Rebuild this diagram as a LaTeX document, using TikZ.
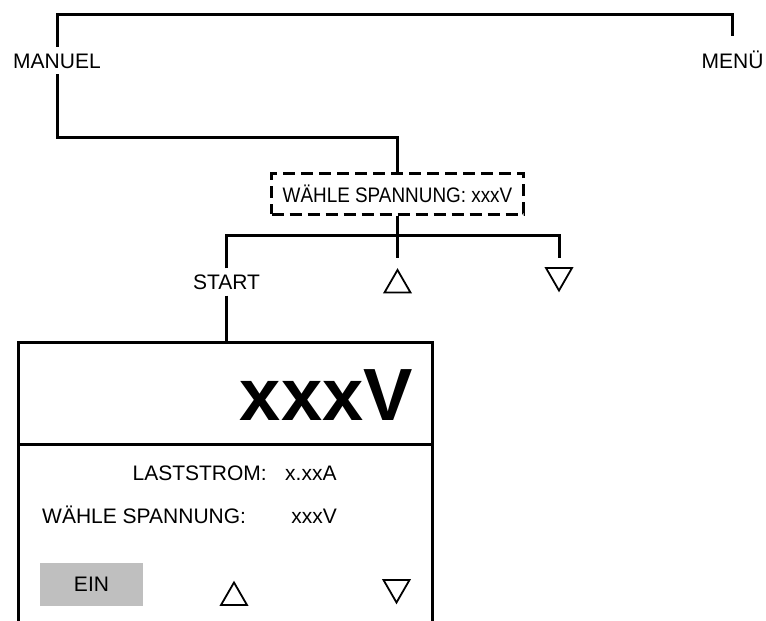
\documentclass[tikz,border=0pt]{standalone}
\usepackage{fontspec}
\setmainfont{Liberation Sans}
\usetikzlibrary{shapes.geometric}
\definecolor{eingray}{HTML}{BFBFBF}
\begin{document}
\begin{tikzpicture}[x=1pt,y=-1pt,
  conn/.style={line width=3pt},
  lbl/.style={font=\fontsize{21}{24}\selectfont, inner xsep=0pt, inner ysep=6pt, text height=15pt, text depth=0pt},
  txt/.style={font=\fontsize{21}{24}\selectfont, inner sep=0pt},
  selbox/.style={draw, line width=3pt, dash pattern=on 12pt off 6pt, minimum width=252pt, minimum height=41pt, inner sep=0pt, font=\fontsize{21}{24}\selectfont},
  tri/.style={draw, regular polygon, regular polygon sides=3, minimum size=30pt, inner sep=0pt, line width=1.8pt},
  tridown/.style={tri, shape border rotate=180}]
\useasboundingbox (0,0) rectangle (766,621);

% labels
\node[lbl] (manuel) at (57,60.5) {MANUEL};
\node[lbl, inner ysep=17pt] (menu) at (732.5,60.5) {MENÜ};
\node[selbox] (sel) at (397.5,193.5) {\scalebox{0.9}[1]{WÄHLE SPANNUNG: xxxV}};
\node[lbl] (start) at (226.5,282) {START};
\node[tri] (up1) at (397.5,285) {};
\node[tridown] (dn1) at (559,275.5) {};

\coordinate (topc) at (400,14);
\coordinate (j1) at (397.5,137);
\coordinate (bus) at (397.5,235);
\coordinate (ptop) at (226.5,342);

% connectors
\draw[conn] (manuel.north) |- (topc) -| (menu.north);
\draw[conn] (manuel.south) |- (j1) -- (sel.north);
\draw[conn] (sel.south) -- ([yshift=27pt]up1.center);
\draw[conn] (start.north) |- (bus) -| ([yshift=17.5pt]dn1.center);
\draw[conn] (start.south) -- (ptop);

% panel
\draw[line width=3pt] (18,630) |- (432,342) -- (432,630);
\draw[line width=3pt] (18,444) -- (432,444);
\node[anchor=base east, inner sep=0pt, font=\fontsize{74}{80}\selectfont\bfseries] (big) at (413,420) {xxxV};
\node[txt, anchor=base east] (last) at (267,480) {LASTSTROM:};
\node[txt, anchor=base west] (lastv) at (285,480) {x.xxA};
\node[txt, anchor=base west] (wahl) at (42,523) {WÄHLE SPANNUNG:};
\node[txt, anchor=base east] (wahlv) at (337,523) {xxxV};
\node[fill=eingray, minimum width=103pt, minimum height=43pt, inner sep=0pt, font=\fontsize{21}{24}\selectfont] (ein) at (91.5,584.5) {EIN};
\node[tri] (up2) at (234,597.5) {};
\node[tridown] (dn2) at (396.5,587.5) {};
\end{tikzpicture}
\end{document}
